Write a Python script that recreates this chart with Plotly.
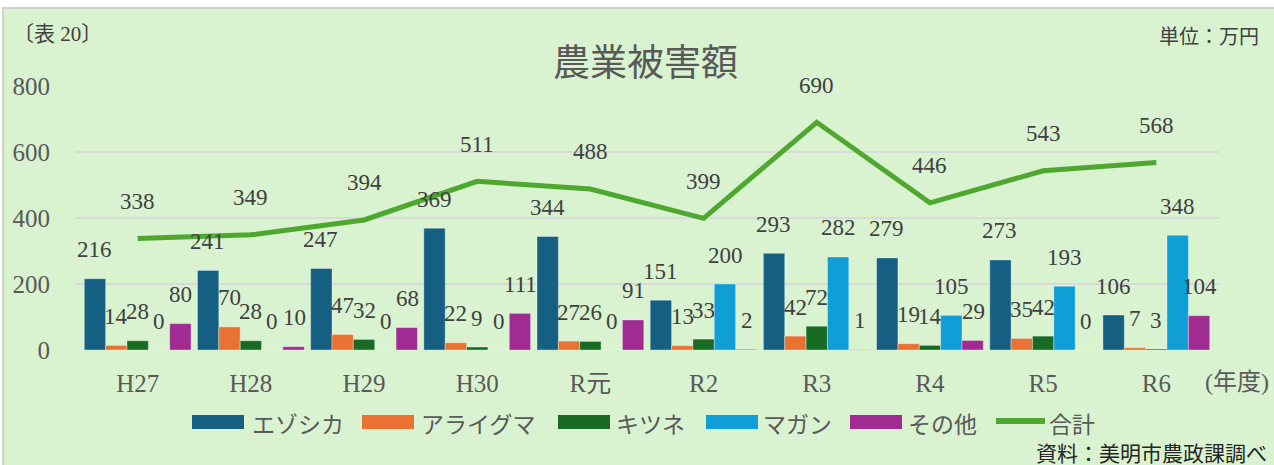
import plotly.graph_objects as go

# ---- data ----
years = ["H27", "H28", "H29", "H30", "R元", "R2", "R3", "R4", "R5", "R6"]
ezoshika = [216, 241, 247, 369, 344, 151, 293, 279, 273, 106]
araiguma = [14, 70, 47, 22, 27, 13, 42, 19, 35, 7]
kitsune = [28, 28, 32, 9, 26, 33, 72, 14, 42, 3]
magan = [0, 0, 0, 0, 0, 200, 282, 105, 193, 348]
sonota = [80, 10, 68, 111, 91, 2, 1, 29, 0, 104]
goukei = [338, 349, 394, 511, 488, 399, 690, 446, 543, 568]

series_names = ["エゾシカ", "アライグマ", "キツネ", "マガン", "その他"]
series_vals = [ezoshika, araiguma, kitsune, magan, sonota]
colors = ["#156082", "#E97132", "#196B24", "#0F9ED5", "#A02B93"]
line_color = "#4EA72E"
y_ticks = [0, 200, 400, 600, 800]

# ---- layout geometry (pixels) ----
W, H = 1274, 465
L, R, T, B = 75, 55, 86, 115
PW, PH = W - L - R, H - T - B
BARGAP = 0.0566


def fx(px):
    return (px - L) / PW


def fy(py):
    return (H - B - py) / PH


SERIF = "Liberation Serif, Noto Sans CJK JP"
CJK = "Noto Sans CJK JP"

fig = go.Figure()
for name, vals, col in zip(series_names, series_vals, colors):
    fig.add_trace(go.Bar(
        x=years, y=vals, name=name,
        marker=dict(color=col, line=dict(color="rgba(255,255,255,0.35)", width=1)),
        showlegend=False,
    ))

fig.add_trace(go.Scatter(
    x=years, y=goukei, name="合計", mode="lines",
    line=dict(color=line_color, width=5),
    showlegend=False,
))

annotations = []
cat_px = PW / len(years)
bar_px = cat_px * (1 - BARGAP) / len(series_names)
for i, vals in enumerate(series_vals):
    for yr, v in zip(years, vals):
        annotations.append(dict(
            x=yr, y=v, xref="x", yref="y", text=str(v), showarrow=False,
            xshift=(i - 2) * bar_px, yshift=29, yanchor="middle",
            font=dict(family=SERIF, size=23, color="#404040"),
        ))
for yr, v in zip(years, goukei):
    annotations.append(dict(
        x=yr, y=v, xref="x", yref="y", text=str(v), showarrow=False,
        yshift=37, yanchor="middle",
        font=dict(family=SERIF, size=23, color="#404040"),
    ))

# titles and texts
annotations += [
    dict(x=fx(645), y=fy(60), xref="paper", yref="paper", text="農業被害額",
         showarrow=False, xanchor="center", yanchor="middle",
         font=dict(family=CJK, size=37, color="#595959")),
    dict(x=fx(11), y=fy(34), xref="paper", yref="paper", text="〔表 20〕",
         showarrow=False, xanchor="left", yanchor="middle",
         font=dict(family=SERIF, size=21, color="#404040")),
    dict(x=fx(1261), y=fy(36), xref="paper", yref="paper", text="単位：万円",
         showarrow=False, xanchor="right", yanchor="middle",
         font=dict(family=CJK, size=20, color="#404040")),
    dict(x=fx(1237), y=fy(382), xref="paper", yref="paper", text="(年度)",
         showarrow=False, xanchor="center", yanchor="middle",
         font=dict(family=SERIF, size=24, color="#595959")),
    dict(x=fx(1269), y=fy(452), xref="paper", yref="paper", text="資料：美明市農政課調べ",
         showarrow=False, xanchor="right", yanchor="middle", height=25, valign="middle",
         font=dict(family=CJK, size=21, color="#262626")),
]

shapes = [
    # chart background / border
    dict(type="rect", xref="paper", yref="paper", layer="below",
         x0=fx(3), x1=fx(W + 10), y0=fy(H + 10), y1=fy(8),
         fillcolor="#D9F2D0", line=dict(color="#D0D0D0", width=2)),
]

# custom legend
legend_items = [(192, 250), (362, 419), (558, 614), (706, 761), (850, 906)]
for (sx, tx), name, col in zip(legend_items, series_names, colors):
    shapes.append(dict(type="rect", xref="paper", yref="paper",
                       x0=fx(sx), x1=fx(sx + 52), y0=fy(429), y1=fy(415),
                       fillcolor=col, line=dict(width=0)))
    annotations.append(dict(x=fx(tx), y=fy(422), xref="paper", yref="paper",
                            text=name, showarrow=False, xanchor="left", yanchor="middle",
                            height=27, valign="middle",
                            font=dict(family=CJK, size=23, color="#595959")))
shapes.append(dict(type="line", xref="paper", yref="paper",
                   x0=fx(996), x1=fx(1045), y0=fy(421), y1=fy(421),
                   line=dict(color=line_color, width=6)))
annotations.append(dict(x=fx(1047), y=fy(422), xref="paper", yref="paper",
                        text="合計", showarrow=False, xanchor="left", yanchor="middle",
                        height=27, valign="middle",
                        font=dict(family=CJK, size=23, color="#595959")))

fig.update_layout(
    width=W, height=H,
    margin=dict(l=L, r=R, t=T, b=B, pad=0),
    paper_bgcolor="white",
    plot_bgcolor="rgba(0,0,0,0)",
    barmode="group", bargap=BARGAP, bargroupgap=0,
    showlegend=False,
    annotations=annotations,
    shapes=shapes,
    xaxis=dict(
        type="category", showgrid=False, showline=False, zeroline=False,
        ticks="", ticklabelstandoff=16,
        tickfont=dict(family=SERIF, size=25, color="#595959"),
    ),
    yaxis=dict(
        range=[0, 800], tickvals=y_ticks, showgrid=True,
        gridcolor="#D9D9D9", gridwidth=1.5, zeroline=False, showline=False,
        ticks="", ticklabelstandoff=24,
        tickfont=dict(family=SERIF, size=25, color="#595959"),
    ),
)

fig.write_html(
    "out.html",
    config={"displayModeBar": False},
    post_script="document.body.style.margin='0';document.body.style.padding='0';"
                "document.body.style.overflow='hidden';",
)
